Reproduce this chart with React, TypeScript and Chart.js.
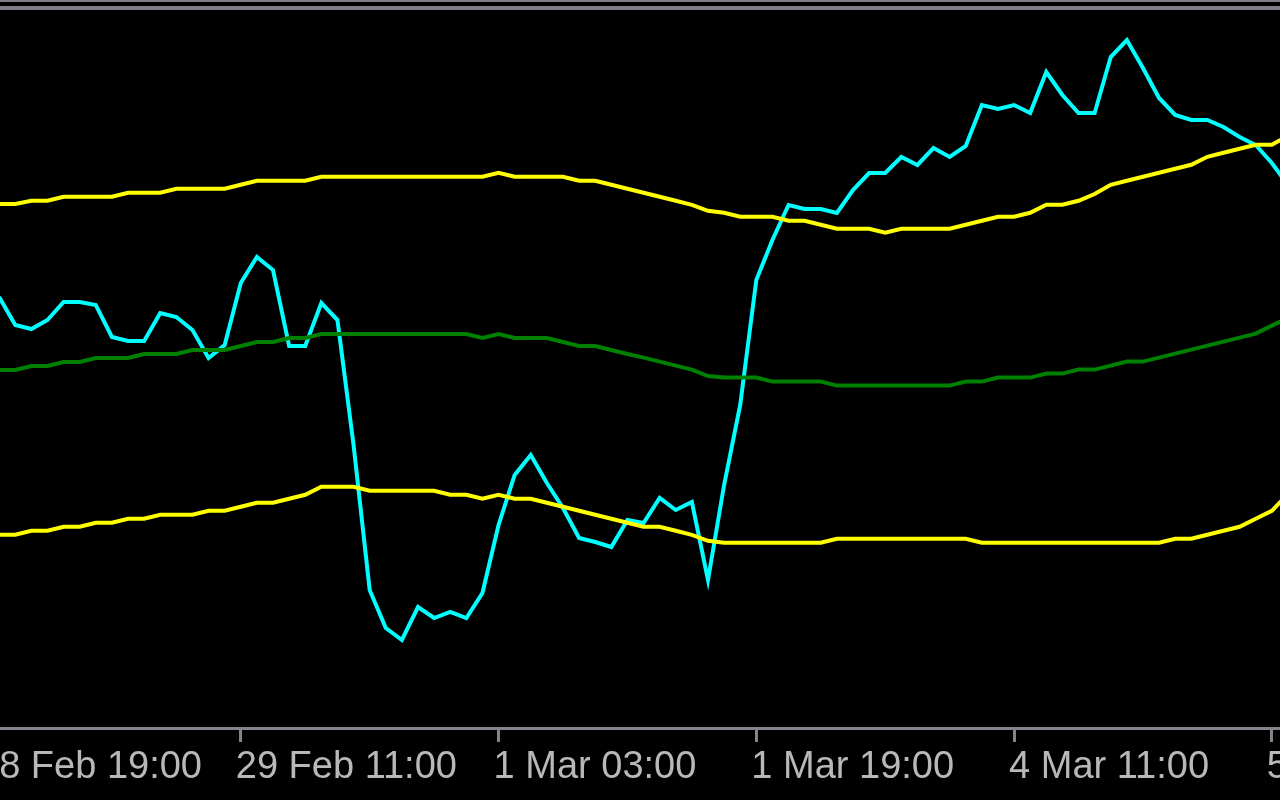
import React, { useEffect, useRef } from "react";
import { Chart, registerables } from "chart.js";

Chart.register(...registerables);

// H1 bars: index of the first bar in the series lists below
const firstBar = 1;

// x-axis ticks (bar index) and their labels
const tickBars = [0, 16, 32, 48, 64, 80];
const tickLabels = [
  "28 Feb 19:00",
  "29 Feb 11:00",
  "1 Mar 03:00",
  "1 Mar 19:00",
  "4 Mar 11:00",
  "5 Mar 03:00",
];

// main (cyan) line
const mainLine = [
  107.75, 100.75, 99.75, 102, 106.5, 106.5, 105.75, 97.75, 96.75, 96.75,
  103.75, 102.75, 99.5, 92.5, 95.75, 111.25, 117.75, 114.5, 95.5, 95.5,
  106.25, 102, 70.75, 34.5, 25, 22, 30.25, 27.5, 29, 27.5,
  33.75, 50.75, 63.25, 68.25, 61.25, 55, 47.5, 46.5, 45.25, 52,
  51.25, 57.5, 54.5, 56.5, 37, 60.75, 80.75, 112, 122, 130.75,
  129.75, 129.75, 128.75, 134.5, 138.75, 138.75, 142.75, 140.75, 145, 142.75,
  145.5, 155.75, 154.75, 155.75, 153.75, 164, 158.25, 153.75, 153.75, 167.75,
  172, 165, 157.5, 153.25, 152, 152, 150.25, 147.75, 145.75, 141.25,
  135.75,
];

// upper band (yellow)
const upperBand = [
  131.0, 131.0, 131.8, 131.8, 132.8, 132.8, 132.8, 132.8, 133.8, 133.8,
  133.8, 134.8, 134.8, 134.8, 134.8, 135.8, 136.8, 136.8, 136.8, 136.8,
  137.8, 137.8, 137.8, 137.8, 137.8, 137.8, 137.8, 137.8, 137.8, 137.8,
  137.8, 138.8, 137.8, 137.8, 137.8, 137.8, 136.8, 136.8, 135.8, 134.8,
  133.8, 132.8, 131.8, 130.8, 129.3, 128.8, 127.8, 127.8, 127.8, 126.8,
  126.8, 125.8, 124.8, 124.8, 124.8, 123.8, 124.8, 124.8, 124.8, 124.8,
  125.8, 126.8, 127.8, 127.8, 128.8, 130.8, 130.8, 131.8, 133.5, 135.8,
  136.8, 137.8, 138.8, 139.8, 140.8, 142.8, 143.8, 144.8, 145.8, 145.8,
  148.0,
];

// middle band (green)
const middleBand = [
  89.5, 89.5, 90.5, 90.5, 91.5, 91.5, 92.5, 92.5, 92.5, 93.5,
  93.5, 93.5, 94.5, 94.5, 94.5, 95.5, 96.5, 96.5, 97.5, 97.5,
  98.5, 98.5, 98.5, 98.5, 98.5, 98.5, 98.5, 98.5, 98.5, 98.5,
  97.5, 98.5, 97.5, 97.5, 97.5, 96.5, 95.5, 95.5, 94.5, 93.5,
  92.6, 91.6, 90.6, 89.6, 88.0, 87.6, 87.6, 87.6, 86.6, 86.6,
  86.6, 86.6, 85.6, 85.6, 85.6, 85.6, 85.6, 85.6, 85.6, 85.6,
  86.6, 86.6, 87.6, 87.6, 87.6, 88.6, 88.6, 89.6, 89.6, 90.6,
  91.6, 91.6, 92.6, 93.6, 94.6, 95.6, 96.6, 97.6, 98.6, 100.6,
  102.5,
];

// lower band (yellow)
const lowerBand = [
  48.3, 48.3, 49.3, 49.3, 50.3, 50.3, 51.3, 51.3, 52.3, 52.3,
  53.3, 53.3, 53.3, 54.3, 54.3, 55.3, 56.3, 56.3, 57.3, 58.3,
  60.3, 60.3, 60.3, 59.3, 59.3, 59.3, 59.3, 59.3, 58.3, 58.3,
  57.3, 58.3, 57.3, 57.3, 56.3, 55.3, 54.3, 53.3, 52.3, 51.3,
  50.3, 50.3, 49.3, 48.3, 46.8, 46.3, 46.3, 46.3, 46.3, 46.3,
  46.3, 46.3, 47.3, 47.3, 47.3, 47.3, 47.3, 47.3, 47.3, 47.3,
  47.3, 46.3, 46.3, 46.3, 46.3, 46.3, 46.3, 46.3, 46.3, 46.3,
  46.3, 46.3, 46.3, 47.3, 47.3, 48.3, 49.3, 50.3, 52.3, 54.3,
  58.5,
];

const GREY = "#84848c";
const TEXT = "#b8b8b8";

const toPoints = (vals: number[]) => vals.map((v, k) => ({ x: firstBar + k, y: v }));

const bgPlugin = {
  id: "mtBackground",
  beforeDraw(chart: any) {
    const { ctx, width, height } = chart;
    ctx.save();
    ctx.fillStyle = "#000000";
    ctx.fillRect(0, 0, width, height);
    ctx.fillStyle = "#7c7c86";
    ctx.fillRect(0, 0, width, 2);
    ctx.fillRect(0, 6, width, 4);
    ctx.restore();
  },
};

export default function App() {
  const ref = useRef<HTMLCanvasElement | null>(null);

  useEffect(() => {
    if (!ref.current) return;
    const lineStyle = {
      pointRadius: 0,
      borderWidth: 4,
      tension: 0,
      fill: false,
      borderCapStyle: "butt" as const,
    };
    const chart = new Chart(ref.current, {
      type: "line",
      data: {
        datasets: [
          { ...lineStyle, label: "Upper", data: toPoints(upperBand), borderColor: "#ffff00" },
          { ...lineStyle, label: "Lower", data: toPoints(lowerBand), borderColor: "#ffff00" },
          { ...lineStyle, label: "Middle", data: toPoints(middleBand), borderColor: "#008000" },
          { ...lineStyle, label: "Main", data: toPoints(mainLine), borderColor: "#00ffff" },
        ],
      },
      options: {
        animation: false,
        responsive: false,
        events: [],
        layout: { padding: { top: 8, left: 0, right: 0, bottom: 0 } },
        plugins: { legend: { display: false }, tooltip: { enabled: false } },
        scales: {
          x: {
            type: "linear",
            min: 1.053,
            max: 80.507,
            afterBuildTicks: (scale: any) => {
              scale.ticks = tickBars.map((v) => ({ value: v }));
            },
            afterFit: (scale: any) => {
              scale.height = 72;
              scale.paddingLeft = 0;
              scale.paddingRight = 0;
            },
            grid: {
              display: true,
              drawOnChartArea: false,
              drawTicks: true,
              tickLength: 14,
              color: GREY,
              lineWidth: 3,
            },
            border: { display: true, color: GREY, width: 3 },
            ticks: {
              autoSkip: false,
              maxRotation: 0,
              minRotation: 0,
              align: "start",
              labelOffset: -5,
              padding: 3,
              color: TEXT,
              font: { family: "'Liberation Sans', Arial, sans-serif", size: 38 },
              callback: (v: any) => {
                const k = tickBars.indexOf(Number(v));
                return k >= 0 ? tickLabels[k] : "";
              },
            },
          },
          y: { display: false, min: 0, max: 180 },
        },
      },
      plugins: [bgPlugin],
    } as any);
    return () => chart.destroy();
  }, []);

  return (
    <div
      style={{
        position: "fixed",
        left: 0,
        top: 0,
        width: 1280,
        height: 800,
        background: "#000",
        overflow: "hidden",
      }}
    >
      <canvas ref={ref} width={1280} height={800} style={{ display: "block" }} />
    </div>
  );
}
